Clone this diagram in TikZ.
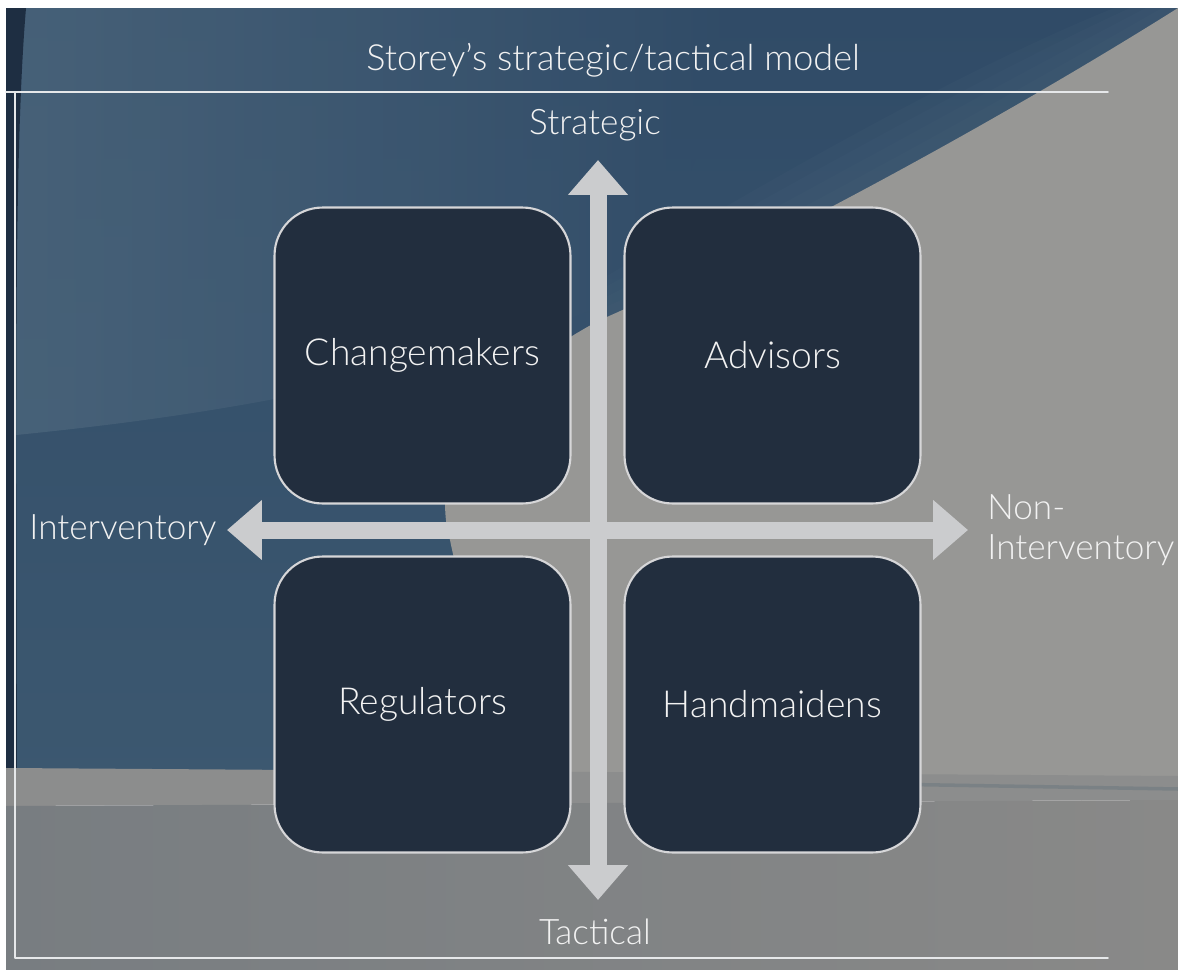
\documentclass[tikz,border=0pt]{standalone}
\usepackage{fontspec}
\setmainfont{Lato}[UprightFont=* Light]
\usetikzlibrary{arrows.meta}
\definecolor{skyblue}{HTML}{3C5870}
\definecolor{skydeep}{HTML}{304B67}
\definecolor{skylight}{HTML}{4C667C}
\definecolor{navy}{HTML}{1E2E42}
\definecolor{stonegray}{HTML}{979795}
\definecolor{bandgray}{HTML}{8C8D8D}
\definecolor{floorleft}{HTML}{787D81}
\definecolor{floorright}{HTML}{898988}
\definecolor{seam}{HTML}{7A8185}
\definecolor{boxfill}{HTML}{222E3E}
\definecolor{boxline}{HTML}{D6D6D8}
\definecolor{axisgray}{HTML}{CBCCCE}
\definecolor{labelwhite}{HTML}{F2F2F2}
\definecolor{rulewhite}{HTML}{E6E8EA}

\begin{document}
\begin{tikzpicture}[x=0.02cm, y=-0.02cm, line join=round, line cap=round,
    font=\fontsize{20}{22.7}\selectfont,
    quad/.style={draw=boxline, line width=1.2pt, fill=boxfill, rounded corners=0.96cm,
        minimum width=5.92cm, minimum height=5.92cm, inner sep=0pt, text=labelwhite,
        font=\fontsize{21.2}{24}\selectfont},
    axis/.style={axisgray, line width=0.34cm, line cap=butt,
        {Triangle[width=1.16cm,length=0.7cm]}-{Triangle[width=1.16cm,length=0.7cm]}},
    lbl/.style={text=labelwhite, inner sep=0pt},
    rule/.style={rulewhite, line width=0.9pt}]
    \useasboundingbox (0,0) rectangle (1178,970);
    % backdrop
    \fill[white] (0,0) rectangle (1178,970);
    \shade[top color=skydeep, bottom color=skyblue] (6,8) rectangle (1178,790);
    \shade[left color=skylight, right color=skydeep, fill opacity=0.8]
        (6,8) -- (6,436) .. controls (220,415) and (430,380) .. (640,290) -- (760,8) -- cycle;
    % soft glow along the roof edge
    \foreach \w in {10,20,30,40}
        \fill[skylight, fill opacity=0.12] (1178-1.6*\w,8) .. controls (1000-1.6*\w,120-\w) and (760-\w,250-\w) .. (600,320-\w)
            -- (600,320) .. controls (760,250) and (1000,120) .. (1178,8) -- cycle;
    \fill[stonegray] (1178,8) .. controls (1000,120) and (760,250) .. (600,320)
        .. controls (470,390) and (430,470) .. (450,540)
        .. controls (470,640) and (520,720) .. (560,790) -- (1178,790) -- cycle;
    \fill[navy] (6,8) -- (26,8) .. controls (14,150) and (16,400) .. (17,770) -- (6,770) -- cycle;
    \fill[bandgray] (6,768) -- (1178,776) -- (1178,800) -- (6,806) -- cycle;
    \shade[left color=floorleft, right color=floorright] (6,806) -- (1178,800) -- (1178,970) -- (6,970) -- cycle;
    \draw[seam, line width=2pt] (880,784) -- (1178,789);
    % frame
    \draw[rule] (6,92) -- (1108,92);
    \draw[rule] (15,92) -- (15,958) -- (1108,958);
    \node[lbl, font=\fontsize{20.5}{24}\selectfont] (title) at (613,60) {Storey’s strategic/tactical model};
    % axes
    \coordinate (north) at (598,160);
    \coordinate (south) at (598,900);
    \coordinate (west) at (227,530);
    \coordinate (east) at (968,530);
    \draw[axis] (west) -- (east);
    \draw[axis] (south) -- (north);
    \node[lbl] (strat) at (595,125) {Strategic};
    \node[lbl] (tact) at (595,932) {Tactical};
    \node[lbl, anchor=west] (interv) at (29,530) {Interventory};
    \node[lbl, anchor=west, align=left] (noninterv) at (987,530) {Non-\\Interventory};
    % quadrants
    \node[quad] (chg) at (422.5,355.5) {Changemakers};
    \node[quad] (adv) at (772.5,355.5) {Advisors};
    \node[quad] (reg) at (422.5,704.5) {Regulators};
    \node[quad] (hnd) at (772.5,704.5) {Handmaidens};
\end{tikzpicture}
\end{document}
